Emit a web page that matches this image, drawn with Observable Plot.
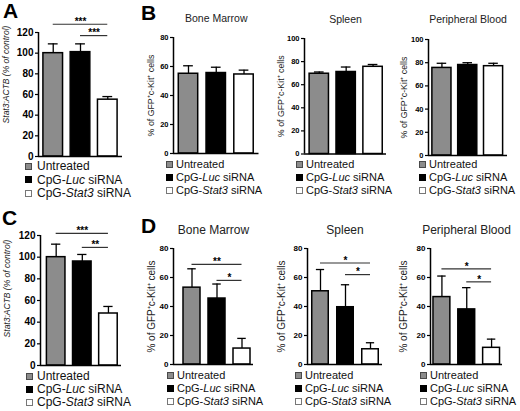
<!DOCTYPE html>
<html>
<head>
<meta charset="utf-8">
<script src="https://cdn.jsdelivr.net/npm/d3@7"></script>
<script src="https://cdn.jsdelivr.net/npm/@observablehq/plot@0.6"></script>
<style>
  body { margin: 0; background: #fff; font-family: "Liberation Sans", Arial, sans-serif; }
  #fig { position: relative; width: 520px; height: 411px; overflow: hidden; }
  #fig svg { position: absolute; left: 0; top: 0; }
  .letter { position: absolute; font-weight: bold; font-size: 21px; line-height: 1; color: #000; }
  .lg { position: absolute; display: flex; align-items: center; height: 14px; white-space: pre; color: #111; }
  .lg span { white-space: pre; }
  .sw { display: inline-block; width: 5px; height: 5px; border: 1px solid #000; }
</style>
</head>
<body>
<div id="fig"></div>
<script>
// groups, same for every panel
const groups = ["Untreated", "CpG-Luc siRNA", "CpG-Stat3 siRNA"];
// legend text pieces, odd pieces are italic
const legendParts = [["Untreated"], ["CpG-", "Luc", " siRNA"], ["CpG-", "Stat3", " siRNA"]];

// A - Stat3:ACTB (% of control)
const aMean = [100, 101, 55];
const aErr = [9, 8, 3];
const aSig = [{from: 0, to: 2, level: 128, stars: "***"}, {from: 1, to: 2, level: 117, stars: "***"}];

// C - Stat3:ACTB (% of control)
const cMean = [100, 96, 48];
const cErr = [12, 6.5, 6.5];
const cSig = [{from: 0, to: 2, level: 122, stars: "***"}, {from: 1, to: 2, level: 109, stars: "**"}];

// B - % of GFP+ c-Kit+ cells
const bMarrowMean = [55, 55.5, 54.5];
const bMarrowErr = [5.5, 4, 3];
const bSpleenMean = [69.5, 71, 75.5];
const bSpleenErr = [1.5, 4.3, 2];
const bBloodMean = [75.5, 78, 77];
const bBloodErr = [4, 2, 2.5];

// D - % of GFP+ c-Kit+ cells
const dMarrowMean = [53, 45.5, 11];
const dMarrowErr = [13, 10, 7];
const dMarrowSig = [{from: 0, to: 2, level: 69, stars: "**"}, {from: 1, to: 2, level: 58, stars: "*"}];
const dSpleenMean = [50.5, 39.5, 10.5];
const dSpleenErr = [15, 15.5, 4.5];
const dSpleenSig = [{from: 0, to: 2, level: 70, stars: "*"}, {from: 1, to: 2, level: 62, stars: "*"}];
const dBloodMean = [46.5, 38, 11.5];
const dBloodErr = [14.5, 15, 6];
const dBloodSig = [{from: 0, to: 2, level: 66, stars: "*"}, {from: 1, to: 2, level: 57, stars: "*"}];

// tick values
const ticks120 = [0, 20, 40, 60, 80, 100, 120];
const ticks100 = [0, 20, 40, 60, 80, 100];
const ticks80 = [0, 20, 40, 60, 80];

const barFill = ["#8c8c8c", "#000000", "#ffffff"];
const swatchStroke = ["#4a4a4a", "#000000", "#777777"];

const W = 520, H = 411;
const fig = document.getElementById("fig");
const gfpLabel = "% of GFP\u207Ac-Kit\u207A cells";
const actbLabel = "Stat3:ACTB (% of control)";

function barPanel(p) {
  const rows = p.mean.map((m, i) => ({i, mean: m, err: p.err[i], fill: barFill[i]}));
  const [padL, padR] = p.pad;
  const marks = [
    Plot.ruleX(rows, {x: "i", y1: "mean", y2: d => d.mean + d.err, strokeWidth: 1.3}),
    Plot.ruleY(rows, {x1: d => d.i - p.half / 2, x2: d => d.i + p.half / 2, y: d => d.mean + d.err, strokeWidth: 1.3}),
    Plot.rect(rows, {x1: d => d.i - p.half, x2: d => d.i + p.half, y1: 0, y2: "mean", fill: "fill", stroke: "#000", strokeWidth: 1.5}),
    Plot.ruleX([-padL], {strokeWidth: 1.5}),
    Plot.ruleY([0], {strokeWidth: 1.5}),
    Plot.axisY({ticks: p.ticks, tickSize: 3, tickPadding: 2, fontSize: p.tickFont, fontWeight: "bold", label: null, strokeWidth: 1.2}),
    Plot.text([p.yLabel], {text: d => d, frameAnchor: "left", textAnchor: "middle", lineAnchor: "middle", rotate: -90,
      dx: -p.labelDx, dy: p.labelDy || 0, fontSize: p.labelFont, fontStyle: p.italic ? "italic" : "normal", fill: "#222"})
  ];
  if (p.title) {
    marks.push(Plot.text([p.title], {text: d => d, frameAnchor: "top", textAnchor: "middle", lineAnchor: "middle",
      dy: p.titleDy, fontSize: p.titleFont, fill: "#222"}));
  }
  if (p.sig) {
    marks.push(
      Plot.ruleY(p.sig, {x1: "from", x2: "to", y: "level", stroke: "#333", strokeWidth: 1.2}),
      Plot.text(p.sig, {x: d => (d.from + d.to) / 2, y: "level", text: "stars", dy: -2.5, fontSize: 10, fontWeight: "bold"})
    );
  }
  const svg = Plot.plot({
    width: W, height: H,
    marginLeft: p.frame[0], marginRight: W - p.frame[1],
    marginTop: p.frame[2], marginBottom: H - p.frame[3],
    x: {type: "linear", domain: [-padL, 2 + padR], axis: null},
    y: {domain: [0, p.yMax], axis: null},
    color: {type: "identity"},
    style: {background: "none", overflow: "visible", fontFamily: "'Liberation Sans', Arial, sans-serif", color: "#000"},
    marks
  });
  fig.appendChild(svg);
}

function legend(x, y, gap, font, textGap) {
  groups.forEach((g, i) => {
    const row = document.createElement("div");
    row.className = "lg";
    row.style.left = x + "px";
    row.style.top = (y + i * gap - 7) + "px";
    row.style.fontSize = font + "px";
    const sw = document.createElement("span");
    sw.className = "sw";
    sw.style.background = barFill[i];
    sw.style.borderColor = swatchStroke[i];
    sw.style.marginRight = textGap + "px";
    row.appendChild(sw);
    legendParts[i].forEach((t, k) => {
      const s = document.createElement("span");
      s.textContent = t;
      if (k % 2 === 1) s.style.fontStyle = "italic";
      row.appendChild(s);
    });
    fig.appendChild(row);
  });
}

function letter(t, x, y) {
  const d = document.createElement("div");
  d.className = "letter";
  d.textContent = t;
  d.style.left = x + "px";
  d.style.top = y + "px";
  fig.appendChild(d);
}

// panel A
barPanel({mean: aMean, err: aErr, sig: aSig, yMax: 120, ticks: ticks120, frame: [38, 122, 32, 156], pad: [0.54, 0.54], half: 0.36,
  tickFont: 10, yLabel: actbLabel, italic: true, labelFont: 8.5, labelDx: 32, labelDy: -20});
legend(25, 166, 13.5, 12, 5);
// panel C
barPanel({mean: cMean, err: cErr, sig: cSig, yMax: 120, ticks: ticks120, frame: [40, 121, 235, 365], pad: [0.6, 0.5], half: 0.355,
  tickFont: 10, yLabel: actbLabel, italic: true, labelFont: 8.5, labelDx: 33, labelDy: -12});
legend(26, 376, 13, 12, 4);

// panel B
barPanel({mean: bMarrowMean, err: bMarrowErr, yMax: 80, ticks: ticks80, frame: [173, 258.5, 37, 153], pad: [0.54, 0.54], half: 0.35,
  tickFont: 7.5, yLabel: gfpLabel, labelFont: 8.8, labelDx: 22, title: "Bone Marrow", titleFont: 10.5, titleDy: -19});
legend(166, 164, 13, 11, 3);
barPanel({mean: bSpleenMean, err: bSpleenErr, yMax: 100, ticks: ticks100, frame: [304, 386, 38, 153.5], pad: [0.55, 0.5], half: 0.36,
  tickFont: 7.5, yLabel: gfpLabel, labelFont: 8.8, labelDx: 23, title: "Spleen", titleFont: 10.5, titleDy: -19});
legend(296, 164, 13, 11, 3);
barPanel({mean: bBloodMean, err: bBloodErr, yMax: 100, ticks: ticks100, frame: [428, 507, 39, 155], pad: [0.52, 0.54], half: 0.37,
  tickFont: 7.5, yLabel: gfpLabel, labelFont: 8.8, labelDx: 24, title: "Peripheral Blood", titleFont: 10.5, titleDy: -20});
legend(419, 164, 13, 11, 3);

// panel D
barPanel({mean: dMarrowMean, err: dMarrowErr, sig: dMarrowSig, yMax: 80, ticks: ticks80, frame: [173, 253, 248, 364], pad: [0.74, 0.46], half: 0.34,
  tickFont: 8, yLabel: gfpLabel, labelFont: 10, labelDx: 22, title: "Bone Marrow", titleFont: 12, titleDy: -18});
legend(167, 375, 13, 11, 3);
barPanel({mean: dSpleenMean, err: dSpleenErr, sig: dSpleenSig, yMax: 80, ticks: ticks80, frame: [307, 382, 248, 364], pad: [0.52, 0.48], half: 0.33,
  tickFont: 8, yLabel: gfpLabel, labelFont: 10, labelDx: 26, title: "Spleen", titleFont: 12, titleDy: -18});
legend(295, 375, 13, 11, 3);
barPanel({mean: dBloodMean, err: dBloodErr, sig: dBloodSig, yMax: 80, ticks: ticks80, frame: [430, 502, 248, 364], pad: [0.46, 0.44], half: 0.34,
  tickFont: 8, yLabel: gfpLabel, labelFont: 10, labelDx: 27, title: "Peripheral Blood", titleFont: 12, titleDy: -18});
legend(420, 375, 13, 11, 3);

letter("A", 3, 0);
letter("B", 141, 2);
letter("C", 2, 207);
letter("D", 141, 215);
</script>
</body>
</html>
